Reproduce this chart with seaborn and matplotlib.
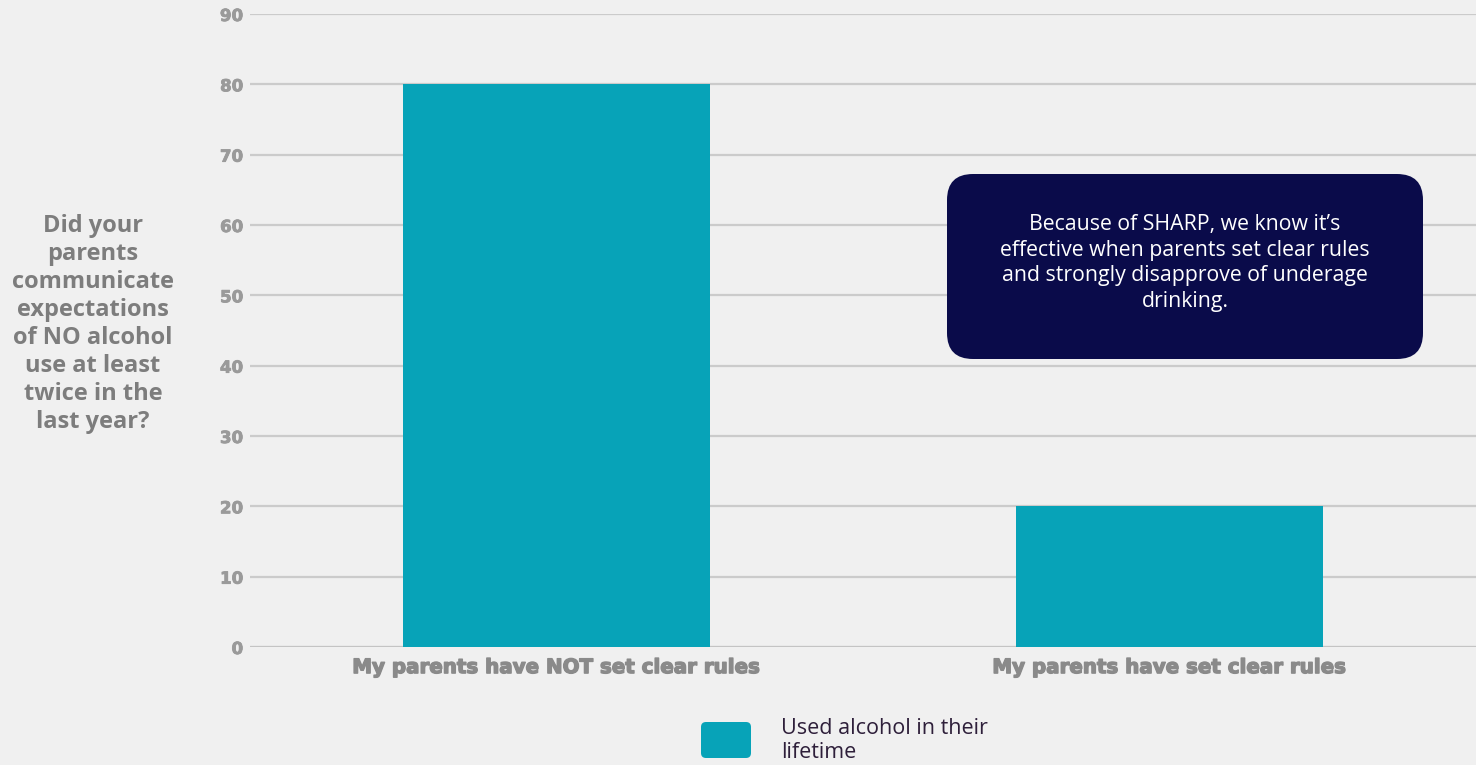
import pandas as pd
import numpy as np
import seaborn as sns
import matplotlib.pyplot as plt
import matplotlib.patheffects as pe
from matplotlib.patches import FancyBboxPatch

# data
categories = ['My parents have NOT set clear rules', 'My parents have set clear rules']
used_alcohol = [80, 20]
series_name = 'Used alcohol in their\nlifetime'
y_ticks = [0, 10, 20, 30, 40, 50, 60, 70, 80, 90]
question = 'Did your\nparents\ncommunicate\nexpectations\nof NO alcohol\nuse at least\ntwice in the\nlast year?'
note = "Because of SHARP, we know it\u2019s\neffective when parents set clear rules\nand strongly disapprove of underage\ndrinking."

df = pd.DataFrame({'category': categories, 'value': used_alcohol})

bg = '#f0f0f0'
teal = '#07a3b8'

sns.set_theme(style='white', rc={'axes.facecolor': bg, 'figure.facecolor': bg})
plt.rcParams['font.family'] = ['Open Sans', 'DejaVu Sans']

fig = plt.figure(figsize=(14.76, 7.65), dpi=100)
ax = fig.add_axes([250/1476, 118/765, 1226/1476, 633/765])

sns.barplot(data=df, x='category', y='value', color=teal, width=0.5,
            saturation=1, linewidth=0, ax=ax, zorder=3)

ax.set_ylim(0, 90)
ax.set_xlim(-0.5, 1.5)
ax.set_yticks(y_ticks)
ax.yaxis.grid(True, color='#cbcbcb', linewidth=1.6, zorder=0)
ax.set_axisbelow(True)
for s in ax.spines.values():
    s.set_visible(False)
ax.axhline(0, color='#c4c4c4', linewidth=2.2, zorder=2)
ax.set_xlabel('')
ax.set_ylabel('')
ax.tick_params(axis='both', length=0)
ax.tick_params(axis='y', pad=5)
ax.tick_params(axis='x', pad=8)
for lab in ax.get_yticklabels():
    lab.set_fontfamily('DejaVu Sans')
    lab.set_fontweight('bold')
    lab.set_fontsize(12)
    lab.set_color('#9a9a9a')
    lab.set_path_effects([pe.withStroke(linewidth=0.6, foreground='#9a9a9a')])
for lab in ax.get_xticklabels():
    lab.set_fontfamily('DejaVu Sans')
    lab.set_fontweight('heavy')
    lab.set_fontsize(14.3)
    lab.set_color('#8a8a8a')
    lab.set_path_effects([pe.withStroke(linewidth=1.0, foreground='#8a8a8a')])

# question text on the left
fig.text(0.93, 4.41, question, transform=fig.dpi_scale_trans, ha='center', va='center',
         fontsize=17, fontweight='bold', color='#7d7d7d', linespacing=1.23)

# note box
box = FancyBboxPatch((9.47, 4.06), 4.76, 1.85, boxstyle='round,pad=0,rounding_size=0.26',
                     transform=fig.dpi_scale_trans, facecolor='#0a0b4a', edgecolor='none')
fig.patches.append(box)
fig.text(11.85, 5.02, note, transform=fig.dpi_scale_trans, ha='center', va='center',
         fontsize=15.3, color='white', linespacing=1.3)

# legend
leg = FancyBboxPatch((7.01, 0.07), 0.5, 0.36, boxstyle='round,pad=0,rounding_size=0.05',
                     transform=fig.dpi_scale_trans, facecolor=teal, edgecolor='none')
fig.patches.append(leg)
fig.text(7.81, 0.245, series_name, transform=fig.dpi_scale_trans, ha='left', va='center',
         fontsize=15.5, color='#2e1f3a', linespacing=1.25)

fig.savefig('out.png', dpi=100, facecolor=bg)
